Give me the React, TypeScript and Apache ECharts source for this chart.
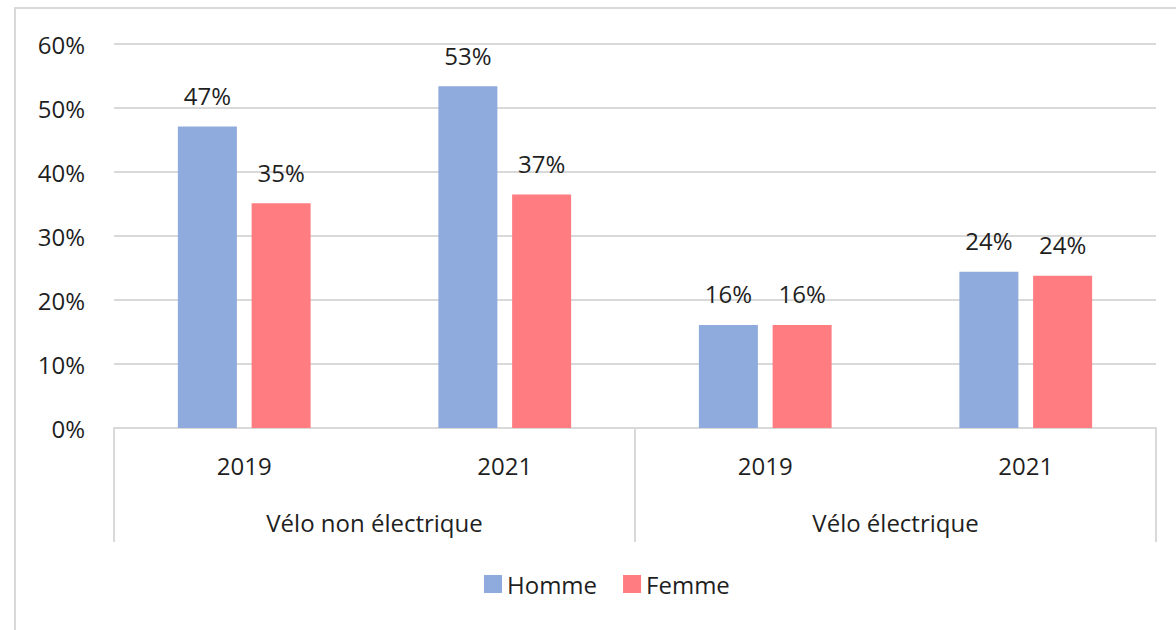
import React, { useEffect, useRef } from "react";
import * as echarts from "echarts";

const years = ["2019", "2021", "2019", "2021"];
const groups = ["Vélo non électrique", "Vélo électrique"];
const seriesNames = ["Homme", "Femme"];
const homme = [47.1, 53.4, 16.1, 24.4];
const femme = [35.1, 36.5, 16.1, 23.8];
const yTicks = { min: 0, max: 60, interval: 10 };

const FONT = "Open Sans";
const TXT = "#1f1f1f";
const GRID = "#d9d9d9";

export default function App() {
  const ref = useRef<HTMLDivElement>(null);
  useEffect(() => {
    if (!ref.current) return;
    const chart = echarts.init(ref.current, null, { renderer: "svg" });
    const label = {
      show: true,
      position: "top",
      distance: 19,
      fontFamily: FONT,
      fontSize: 24,
      color: TXT,
      formatter: (p: any) => Math.round(p.value) + "%",
    };
    chart.setOption({
      animation: false,
      backgroundColor: "#ffffff",
      textStyle: { fontFamily: FONT },
      graphic: [
        {
          type: "rect",
          shape: { x: 15, y: 8, width: 1200, height: 700 },
          style: { fill: "none", stroke: GRID, lineWidth: 2 },
          silent: true,
        },
      ],
      grid: { left: 114, right: 20, top: 44, bottom: 202, containLabel: false },
      legend: {
        left: 479,
        top: 567,
        itemWidth: 18,
        itemHeight: 18,
        itemGap: 26,
        icon: "rect",
        textStyle: { fontFamily: FONT, fontSize: 24, color: TXT },
        data: seriesNames,
      },
      xAxis: [
        {
          type: "category",
          data: years,
          position: "bottom",
          axisLine: { show: true, lineStyle: { color: GRID, width: 2 } },
          axisTick: { show: false },
          axisLabel: { margin: 25, fontFamily: FONT, fontSize: 24, color: TXT },
        },
        {
          type: "category",
          data: groups,
          position: "bottom",
          axisLine: { show: false },
          axisTick: { show: true, length: 114, lineStyle: { color: GRID, width: 2 } },
          axisLabel: { margin: 82, fontFamily: FONT, fontSize: 24, color: TXT },
        },
      ],
      yAxis: {
        type: "value",
        min: yTicks.min,
        max: yTicks.max,
        interval: yTicks.interval,
        axisLine: { show: false },
        axisTick: { show: false },
        splitLine: { lineStyle: { color: GRID, width: 2 } },
        axisLabel: {
          margin: 29,
          fontFamily: FONT,
          fontSize: 24,
          color: TXT,
          formatter: "{value}%",
        },
      },
      series: [
        {
          name: seriesNames[0],
          type: "bar",
          xAxisIndex: 0,
          data: homme,
          barWidth: 59,
          barGap: "25%",
          itemStyle: { color: "#8FAADC" },
          label,
        },
        {
          name: seriesNames[1],
          type: "bar",
          xAxisIndex: 0,
          data: femme,
          barWidth: 59,
          barGap: "25%",
          itemStyle: { color: "#FF7C80" },
          label,
        },
      ],
    });
    return () => chart.dispose();
  }, []);
  return (
    <div
      ref={ref}
      style={{ position: "fixed", left: 0, top: 0, width: 1176, height: 630 }}
    />
  );
}
